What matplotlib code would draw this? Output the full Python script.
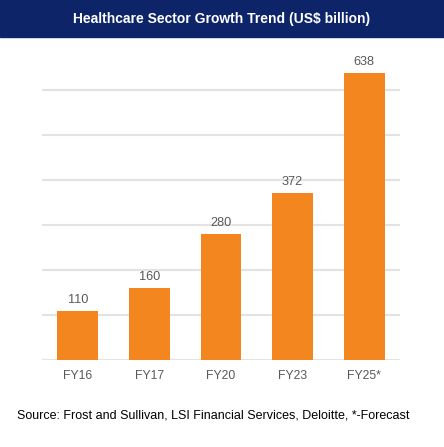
import matplotlib.pyplot as plt
from matplotlib.patches import Rectangle

plt.rcParams['font.family'] = ['Liberation Sans', 'DejaVu Sans']

years = ["FY16", "FY17", "FY20", "FY23", "FY25*"]
values = [110, 160, 280, 372, 638]

title = "Healthcare Sector Growth Trend (US$ billion)"
source = "Source: Frost and Sullivan, LSI Financial Services, Deloitte, *-Forecast"

fig = plt.figure(figsize=(4.44, 4.47), dpi=100)

# dark header band
fig.patches.append(Rectangle((0, 1 - 37 / 447), 1, 37 / 447, transform=fig.transFigure,
                             color="#0d2469", zorder=0))
fig.text(0.5, 1 - 18.5 / 447, title, color="white", fontsize=10, fontweight="bold",
         ha="center", va="center")

ax = fig.add_axes([42 / 444, 87 / 447, 358 / 444, 315 / 447])
x = range(len(years))
bars = ax.bar(x, values, width=0.57, color="#f48620", zorder=3)
for xi, v in zip(x, values):
    ax.text(xi, v + 10, str(v), ha="center", va="bottom", fontsize=9.2, color="#595959")

ax.set_xlim(-0.5, 4.5)
ax.set_ylim(0, 700)
ax.set_yticks(range(0, 700, 100))
ax.yaxis.grid(True, color="#e3e3e3", linewidth=1.5, zorder=0)
ax.tick_params(axis="y", left=False, labelleft=False)
ax.tick_params(axis="x", bottom=False, labelsize=8.8, labelcolor="#595959", pad=4)
ax.set_xticks(list(x))
ax.set_xticklabels(years)
for s in ax.spines.values():
    s.set_visible(False)

fig.text(17 / 444, 1 - 415 / 447, source, fontsize=9, color="black", ha="left", va="center")

fig.savefig("out.png", dpi=100)
